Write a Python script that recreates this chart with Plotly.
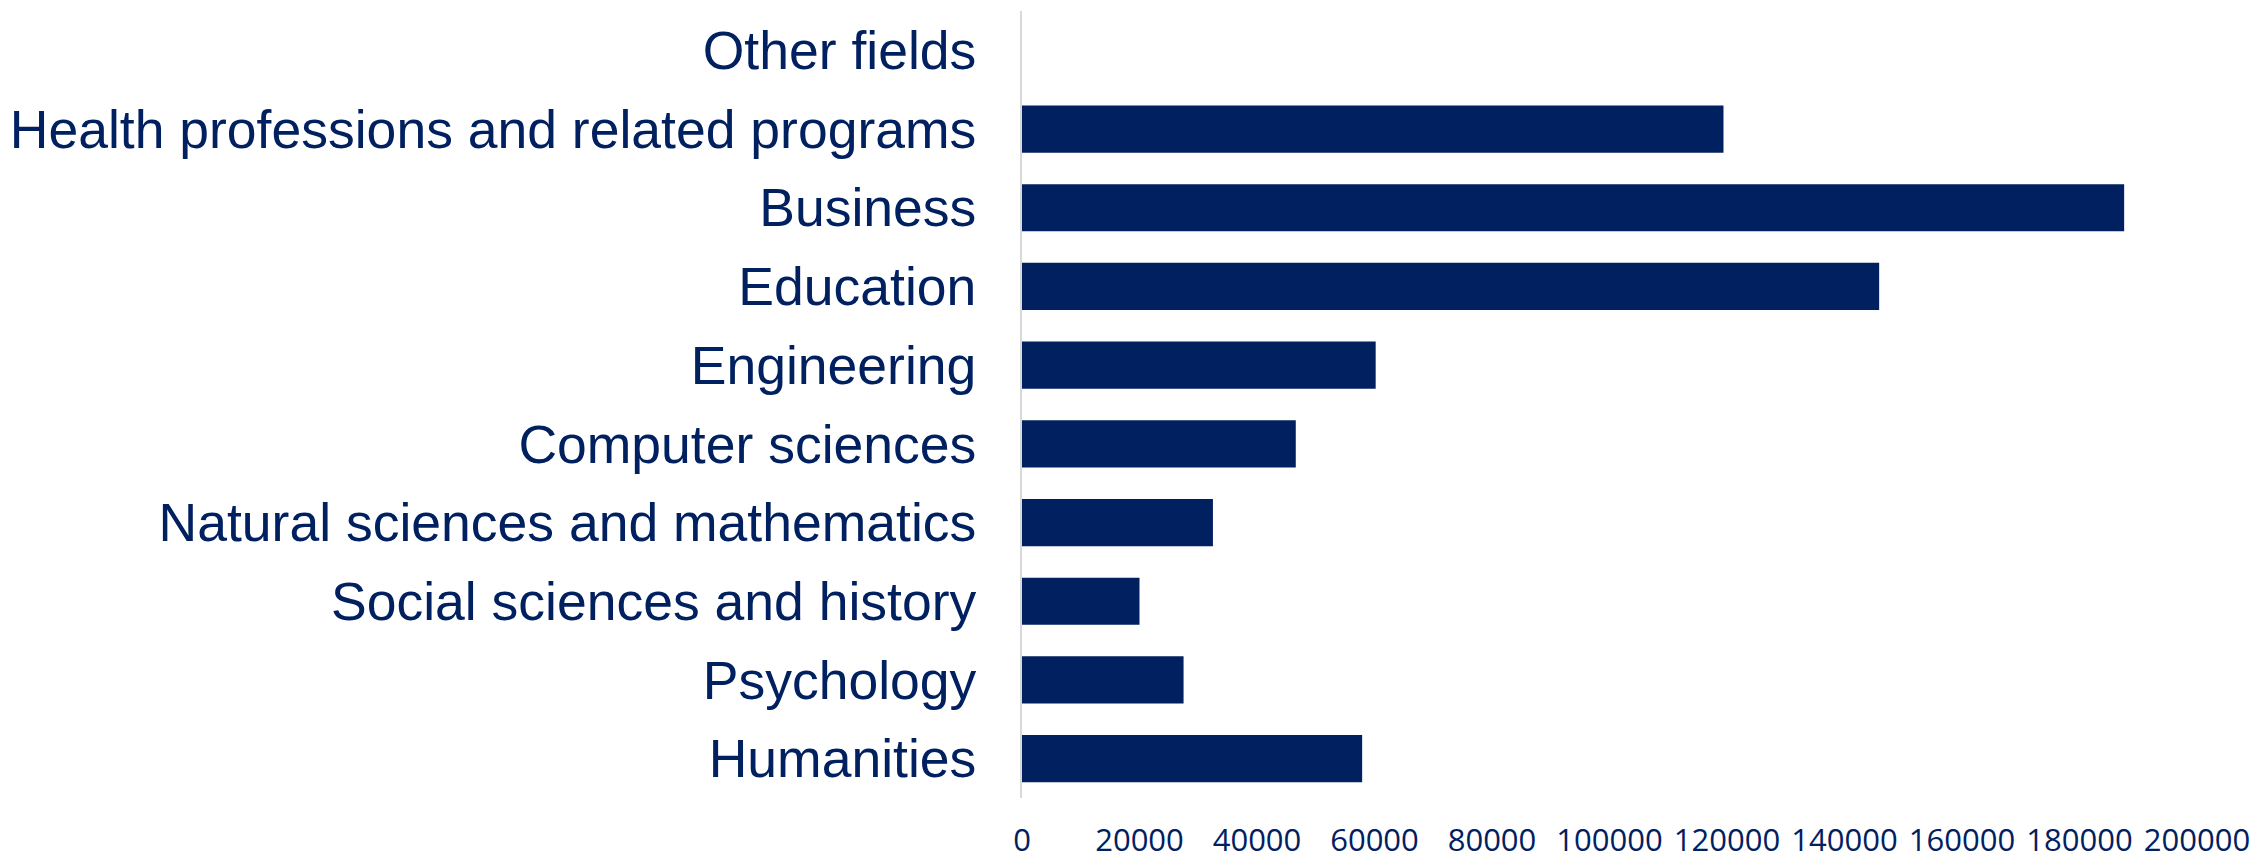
import plotly.graph_objects as go

categories = [
    "Humanities",
    "Psychology",
    "Social sciences and history",
    "Natural sciences and mathematics",
    "Computer sciences",
    "Engineering",
    "Education",
    "Business",
    "Health professions and related programs",
    "Other fields",
]
values = [57900, 27500, 20000, 32500, 46600, 60200, 145900, 187600, 119400, 0]
x_ticks = [0, 20000, 40000, 60000, 80000, 100000, 120000, 140000, 160000, 180000, 200000]

navy = "#012060"

fig = go.Figure(
    go.Bar(
        x=values,
        y=categories,
        orientation="h",
        marker=dict(color=navy, line=dict(width=0)),
        hoverinfo="x+y",
    )
)

fig.update_layout(
    template="none",
    width=2254,
    height=851,
    margin=dict(l=1014, r=65, t=3, b=61, pad=0),
    paper_bgcolor="white",
    plot_bgcolor="white",
    bargap=0.4,
    showlegend=False,
    font=dict(color=navy),
)

fig.update_xaxes(
    range=[0, 200000],
    tickvals=x_ticks,
    ticktext=[str(v) for v in x_ticks],
    showgrid=False,
    zeroline=False,
    showline=False,
    ticks="",
    ticklabelstandoff=21,
    tickfont=dict(family="Open Sans", size=31, color=navy),
    automargin=False,
)

fig.update_yaxes(
    categoryorder="array",
    categoryarray=categories,
    showgrid=False,
    zeroline=False,
    showline=True,
    linecolor="#d9d9d9",
    linewidth=2,
    ticks="",
    ticklabelstandoff=33,
    tickfont=dict(family="Liberation Sans", size=53.5, color=navy),
    automargin=False,
)

fig.write_html("out.html")
